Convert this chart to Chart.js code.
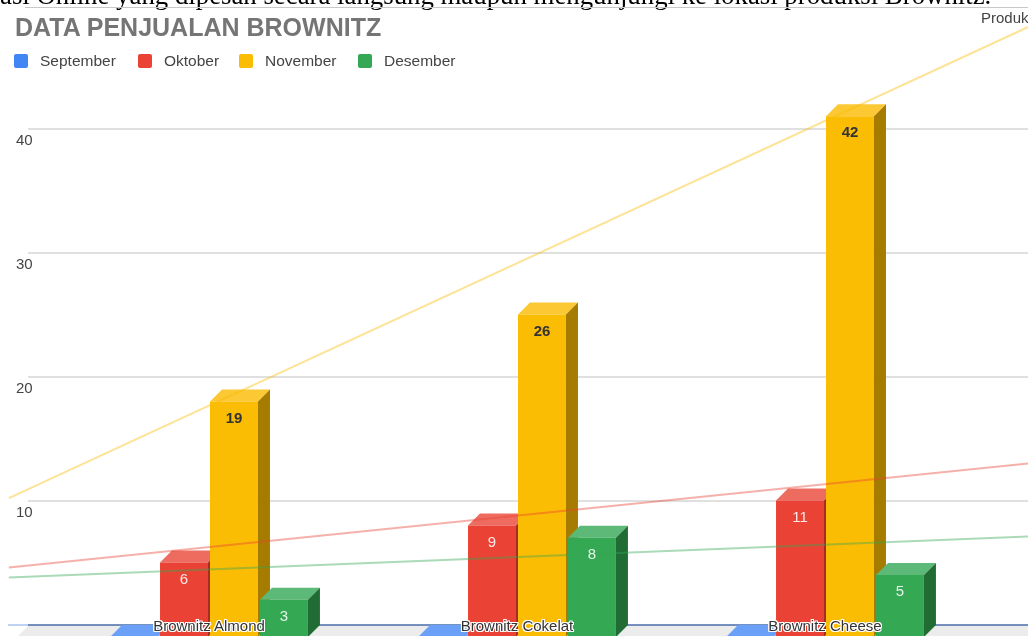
<!DOCTYPE html>
<html lang="id">
<head>
    <meta charset="UTF-8">
    <title>Data Penjualan Brownitz</title>
    <script src="https://cdn.jsdelivr.net/npm/chart.js"></script>
    <style>
        body {
            margin: 0;
            width: 1028px;
            height: 636px;
            overflow: hidden;
            position: relative;
            background: #fff;
            font-family: "Liberation Sans", Arial, sans-serif;
        }
        #chart {
            position: absolute;
            left: 0;
            top: 0;
        }
        .doc-text {
            position: absolute;
            left: 0;
            top: -18px;
            font: 26.8px/27px "Liberation Serif", serif;
            white-space: nowrap;
            color: #000;
        }
        .doc-rule {
            position: absolute;
            left: 25px;
            right: 0;
            top: 7px;
            border-top: 1px solid #c8c8c8;
        }
        .title {
            position: absolute;
            left: 15px;
            top: 15px;
            font-size: 25px;
            line-height: 25px;
            font-weight: bold;
            color: #757575;
        }
        .legend {
            position: absolute;
            left: 0;
            top: 51px;
            font-size: 15.5px;
            color: #444;
        }
        .legend span {
            position: absolute;
            white-space: nowrap;
            line-height: 20px;
        }
        .legend i {
            position: absolute;
            left: -26px;
            top: 3px;
            width: 14px;
            height: 14px;
            border-radius: 2px;
        }
        .produk {
            position: absolute;
            left: 981px;
            top: 9px;
            font-size: 15px;
            color: #444;
            white-space: nowrap;
        }
        .xlabel {
            position: absolute;
            top: 617px;
            font-size: 15px;
            line-height: 18px;
            color: #333;
            white-space: nowrap;
            transform: translateX(-50%);
            text-shadow: -1px -1px 0 #fff, 1px -1px 0 #fff, -1px 1px 0 #fff, 1px 1px 0 #fff,
                         0 -1px 0 #fff, 0 1px 0 #fff, -1px 0 0 #fff, 1px 0 0 #fff;
        }
    </style>
</head>
<body>
    <canvas id="chart" width="1028" height="640"></canvas>
    <div class="doc-text">asi Online yang dipesan secara langsung maupun mengunjungi ke lokasi produksi Brownitz.</div>
    <div class="doc-rule"></div>
    <div class="title">DATA PENJUALAN BROWNITZ</div>
    <div class="legend" id="legend"></div>
    <div class="produk">Produk</div>

    <script>
        // data
        const categories = ['Brownitz Almond', 'Brownitz Cokelat', 'Brownitz Cheese'];
        const seriesNames = ['September', 'Oktober', 'November', 'Desember'];
        const september = [0, 0, 0];
        const oktober = [6, 9, 11];
        const november = [19, 26, 42];
        const desember = [3, 8, 5];
        const yTicks = [10, 20, 30, 40];

        // trendline end points (category index units, read at the picture edges)
        const trendX = [-0.65, 2.66];
        const trendOktober = [5.6, 14.0];
        const trendNovember = [11.2, 49.2];
        const trendDesember = [4.8, 8.1];

        const front = ['#4285f4', '#ea4335', '#fbbc04', '#34a853'];
        const topFace = ['#6aa0f7', '#ee6b60', '#fcc834', '#5db977'];
        const sideFace = ['#2d5cab', '#a32e25', '#a67c00', '#216c35'];
        const depth = 12;

        // legend (html)
        const legendPos = [40, 164, 265, 384];
        const legend = document.getElementById('legend');
        seriesNames.forEach((name, i) => {
            const s = document.createElement('span');
            s.style.left = legendPos[i] + 'px';
            s.innerHTML = `<i style="background:${front[i]}"></i>${name}`;
            legend.appendChild(s);
        });

        function poly(ctx, pts, color) {
            ctx.beginPath();
            ctx.moveTo(pts[0][0], pts[0][1]);
            pts.slice(1).forEach(p => ctx.lineTo(p[0], p[1]));
            ctx.closePath();
            ctx.fillStyle = color;
            ctx.fill();
        }

        // back wall, floor and the depth faces of the bars
        const depthPlugin = {
            id: 'depth3d',
            beforeDatasetsDraw(chart) {
                const ctx = chart.ctx;
                const y = chart.scales.y;
                const y0 = y.getPixelForValue(0);
                ctx.save();
                poly(ctx, [[17, y0], [17 + depth, y0 - depth], [1028, y0 - depth], [1028, y0]], '#ececec');

                ctx.lineWidth = 1.5;
                ctx.strokeStyle = '#d6d6d6';
                yTicks.forEach(v => {
                    const py = y.getPixelForValue(v) - depth;
                    ctx.beginPath();
                    ctx.moveTo(28, py);
                    ctx.lineTo(1028, py);
                    ctx.stroke();
                });
                ctx.strokeStyle = '#abc3ee';
                ctx.beginPath();
                ctx.moveTo(8, y0 - depth);
                ctx.lineTo(28, y0 - depth);
                ctx.stroke();
                ctx.strokeStyle = '#4a6da8';
                ctx.beginPath();
                ctx.moveTo(28, y0 - depth);
                ctx.lineTo(1028, y0 - depth);
                ctx.stroke();

                categories.forEach((c, i) => {
                    for (let d = 0; d < 4; d++) {
                        const el = chart.getDatasetMeta(d).data[i];
                        const p = el.getProps(['x', 'y', 'width', 'base'], true);
                        const l = p.x - p.width / 2;
                        const r = p.x + p.width / 2;
                        poly(ctx, [[l, p.y], [r, p.y], [r + depth, p.y - depth], [l + depth, p.y - depth]], topFace[d]);
                        if (p.base - p.y > 0.5) {
                            poly(ctx, [[r, p.y], [r + depth, p.y - depth], [r + depth, p.base - depth], [r, p.base]], sideFace[d]);
                        }
                    }
                });
                ctx.restore();
            },
            afterDatasetsDraw(chart) {
                const ctx = chart.ctx;
                ctx.save();
                ctx.textAlign = 'center';
                ctx.textBaseline = 'middle';
                for (let d = 1; d < 4; d++) {
                    const meta = chart.getDatasetMeta(d);
                    meta.data.forEach((el, i) => {
                        const v = chart.data.datasets[d].data[i].y;
                        if (!v) return;
                        const p = el.getProps(['x', 'y'], true);
                        if (d === 2) {
                            ctx.font = 'bold 15px "Liberation Sans", Arial';
                            ctx.fillStyle = '#333';
                        } else {
                            ctx.font = '15px "Liberation Sans", Arial';
                            ctx.fillStyle = 'rgba(255,255,255,0.88)';
                        }
                        ctx.fillText(v, p.x, p.y + 17);
                    });
                }
                ctx.restore();
            }
        };

        const barSets = [september, oktober, november, desember].map((vals, i) => ({
            type: 'bar',
            label: seriesNames[i],
            data: vals.map((v, k) => ({ x: k, y: v })),
            backgroundColor: front[i],
            borderWidth: 0,
            order: 1,
            categoryPercentage: 0.649,
            barPercentage: 0.96
        }));

        const trend = (vals, color) => ({
            type: 'line',
            data: trendX.map((x, k) => ({ x: x, y: vals[k] })),
            borderColor: color,
            borderWidth: 2,
            pointRadius: 0,
            clip: false,
            order: 0
        });

        const chart = new Chart(document.getElementById('chart'), {
            type: 'bar',
            data: {
                datasets: [
                    ...barSets,
                    trend(trendNovember, 'rgba(251,188,4,0.42)'),
                    trend(trendOktober, 'rgba(234,67,53,0.42)'),
                    trend(trendDesember, 'rgba(52,168,83,0.42)')
                ]
            },
            options: {
                responsive: false,
                animation: false,
                layout: { padding: { left: 16, right: 49, top: 17, bottom: 3 } },
                plugins: {
                    legend: { display: false },
                    title: { display: false },
                    tooltip: { enabled: false }
                },
                scales: {
                    x: {
                        type: 'linear',
                        display: false,
                        offset: false,
                        min: -0.5,
                        max: 2.5,
                        afterBuildTicks: s => { s.ticks = categories.map((c, i) => ({ value: i })); }
                    },
                    y: {
                        min: 0,
                        max: 50,
                        grid: { display: false },
                        border: { display: false },
                        afterFit: s => {
                            s.width = 39;
                            s.paddingTop = 0;
                            s.paddingBottom = 0;
                        },
                        afterBuildTicks: s => { s.ticks = yTicks.map(v => ({ value: v })); },
                        ticks: {
                            crossAlign: 'far',
                            color: '#444',
                            font: { family: '"Liberation Sans", Arial', size: 15 }
                        }
                    }
                }
            },
            plugins: [depthPlugin]
        });

        // category names sit on the floor, over the bars
        const xs = chart.scales.x;
        categories.forEach((name, i) => {
            const d = document.createElement('div');
            d.className = 'xlabel';
            d.style.left = xs.getPixelForValue(i) + 'px';
            d.textContent = name;
            document.body.appendChild(d);
        });
    </script>
</body>
</html>
